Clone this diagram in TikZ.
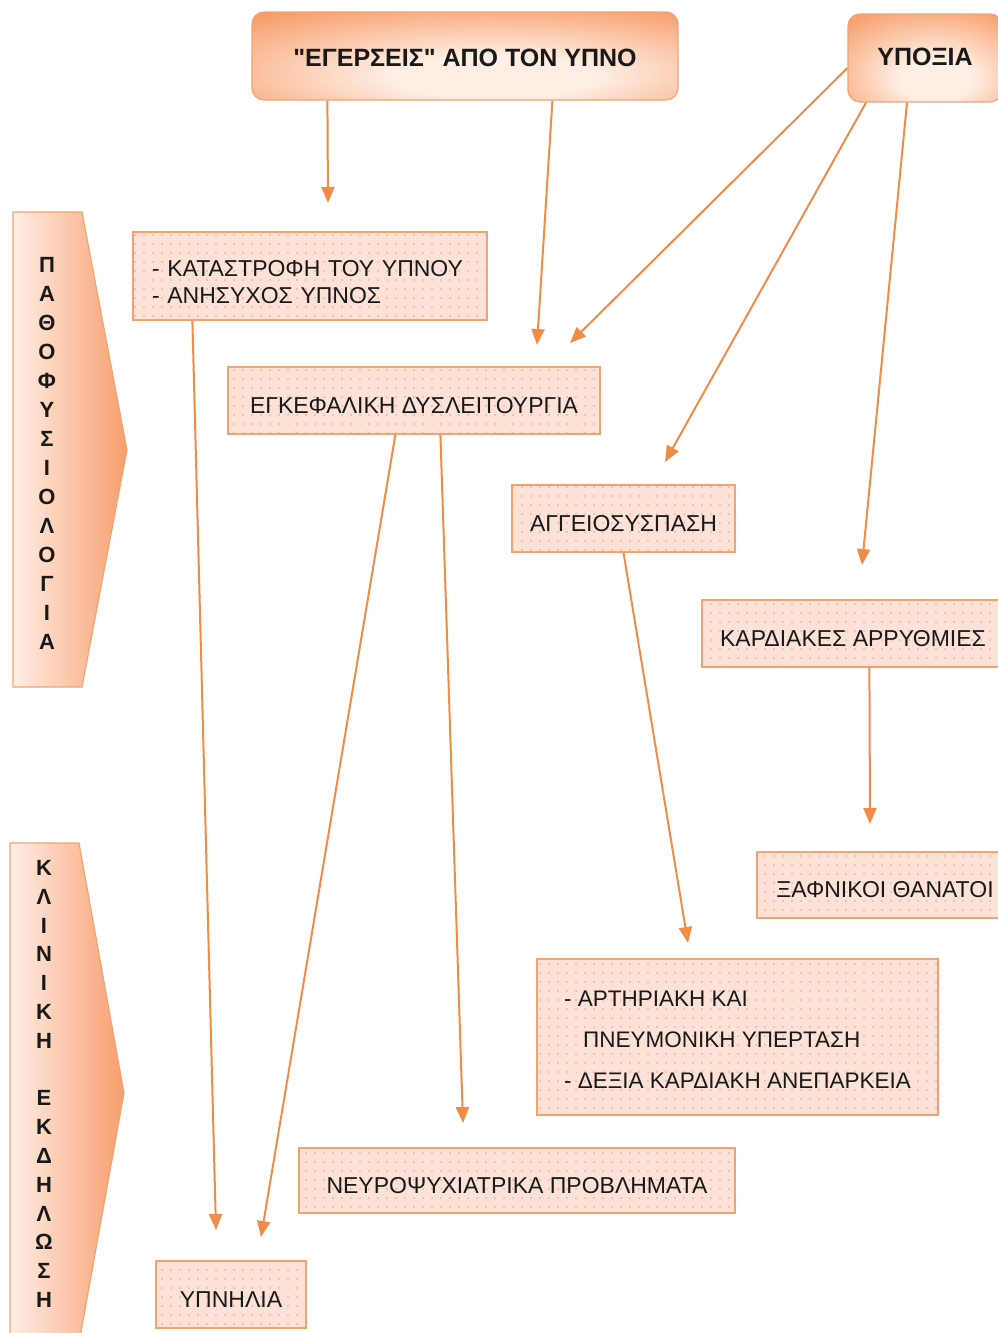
\documentclass[tikz,border=0pt]{standalone}
\usepackage{fontspec}
\setmainfont{Liberation Sans}[Ligatures=TeXOff]
\usetikzlibrary{arrows.meta,patterns.meta}
\definecolor{lineor}{RGB}{240,140,70}
\definecolor{boxline}{RGB}{238,165,115}
\definecolor{boxfill}{RGB}{252,225,215}
\definecolor{dotc}{RGB}{232,165,145}
\definecolor{titlein}{RGB}{255,238,228}
\definecolor{titleout}{RGB}{246,150,95}
\definecolor{sidel}{RGB}{255,238,230}
\definecolor{sider}{RGB}{247,158,108}
\definecolor{txt}{RGB}{25,25,25}
\pgfdeclareradialshading{softglow}{\pgfpoint{4bp}{-14bp}}{color(0bp)=(titlein); color(12bp)=(titlein); color(42bp)=(titleout); color(80bp)=(titleout)}
\begin{document}
\begin{tikzpicture}[x=1pt,y=-1pt,
 dotbox/.style={draw=boxline, line width=1.2pt, preaction={fill=boxfill},
   pattern={Dots[distance=9pt,radius=0.9pt]}, pattern color=dotc,
   inner sep=0pt, font=\fontsize{23}{27}\selectfont, text=txt},
 onebox/.style={dotbox, text height=25.5pt, text depth=0pt},
 titlebox/.style={draw=boxline, line width=1.2pt, rounded corners=12pt,
   shade, shading=softglow,
   font=\fontsize{25}{30}\selectfont\bfseries, text=txt, inner sep=0pt},
 arr/.style={draw=lineor, line width=2pt, -{Triangle[length=16pt,width=13pt]}},
 sidearrow/.style={draw=boxline, line width=1.2pt, left color=sidel, right color=sider},
 sidetext/.style={font=\fontsize{22}{29}\selectfont\bfseries, align=center, text=txt, inner sep=0pt}
]
\useasboundingbox (0,0) rectangle (998,1333);
\clip (0,0) rectangle (998,1333);

% side arrows
\path[sidearrow] (13,212) -- (82,212) -- (127,450) -- (82,687) -- (13,687) -- cycle;
\node[sidetext] (s1) at (47,453.5) {Π\\Α\\Θ\\Ο\\Φ\\Υ\\Σ\\Ι\\Ο\\Λ\\Ο\\Γ\\Ι\\Α};
\path[sidearrow] (10,843) -- (79,843) -- (124,1093) -- (79,1343) -- (10,1343) -- cycle;
\node[sidetext, font=\fontsize{22}{28.8}\selectfont\bfseries] (s2) at (44,1084) {Κ\\Λ\\Ι\\Ν\\Ι\\Κ\\Η\\\mbox{}\\Ε\\Κ\\Δ\\Η\\Λ\\Ω\\Σ\\Η};

% title boxes
\node[titlebox, minimum width=426pt, minimum height=88pt, text height=20pt, text depth=0pt] (A) at (465,56) {"ΕΓΕΡΣΕΙΣ" ΑΠΟ ΤΟΝ ΥΠΝΟ};
\node[titlebox, minimum width=154pt, minimum height=88pt, text height=14pt, text depth=0pt] (B) at (925,58) {ΥΠΟΞΙΑ};

% dotted boxes
\node[dotbox, minimum width=354pt, minimum height=88pt, text width=316pt, align=left] (C) at (310,276)
  {\rule{0pt}{28.5pt}- ΚΑΤΑΣΤΡΟΦΗ ΤΟΥ ΥΠΝΟΥ\\- ΑΝΗΣΥΧΟΣ ΥΠΝΟΣ};
\node[onebox, minimum width=372pt, minimum height=67pt] (D) at (414,400.5) {ΕΓΚΕΦΑΛΙΚΗ ΔΥΣΛΕΙΤΟΥΡΓΙΑ};
\node[onebox, minimum width=223pt, minimum height=67pt] (E) at (623.5,518.5) {ΑΓΓΕΙΟΣΥΣΠΑΣΗ};
\node[onebox, minimum width=302pt, minimum height=67pt] (F) at (853,633.5) {ΚΑΡΔΙΑΚΕΣ ΑΡΡΥΘΜΙΕΣ};
\node[onebox, minimum width=256pt, minimum height=66pt] (G) at (885,885) {ΞΑΦΝΙΚΟΙ ΘΑΝΑΤΟΙ};
\node[dotbox, minimum width=401pt, minimum height=156pt, align=left,
  font=\fontsize{22.5}{41}\selectfont] (H) at (737.5,1037)
  {\rule{0pt}{20.5pt}- ΑΡΤΗΡΙΑΚΗ ΚΑΙ\\\hspace*{19pt}ΠΝΕΥΜΟΝΙΚΗ ΥΠΕΡΤΑΣΗ\\- ΔΕΞΙΑ ΚΑΡΔΙΑΚΗ ΑΝΕΠΑΡΚΕΙΑ};
\node[onebox, minimum width=436pt, minimum height=65pt] (I) at (517,1180.5) {ΝΕΥΡΟΨΥΧΙΑΤΡΙΚΑ ΠΡΟΒΛΗΜΑΤΑ};
\node[onebox, minimum width=150pt, minimum height=67pt] (J) at (231,1294.5) {ΥΠΝΗΛΙΑ};

% arrow tips (free ends, stopping short of their targets)
\coordinate (t1) at (328,203);
\coordinate (t2) at (537,345);
\coordinate (t3) at (570,343);
\coordinate (t4) at (665,462);
\coordinate (t5) at (862,565);
\coordinate (t6) at (216,1230);
\coordinate (t7) at (261,1237);
\coordinate (t8) at (463,1123);
\coordinate (t9) at (688,943);
\coordinate (t10) at (870,824);

\draw[arr] ([xshift=76pt]A.south west) -- (t1);
\draw[arr] ([xshift=301pt]A.south west) -- (t2);
\draw[arr] ([yshift=-10pt]B.west) -- (t3);
\draw[arr] ([xshift=-59pt]B.south) -- (t4);
\draw[arr] ([xshift=-18pt]B.south) -- (t5);
\draw[arr] ([xshift=60pt]C.south west) -- (t6);
\draw[arr] ([xshift=168pt]D.south west) -- (t7);
\draw[arr] ([xshift=213pt]D.south west) -- (t8);
\draw[arr] (E.south) -- (t9);
\draw[arr] ([xshift=168pt]F.south west) -- (t10);
\end{tikzpicture}
\end{document}
